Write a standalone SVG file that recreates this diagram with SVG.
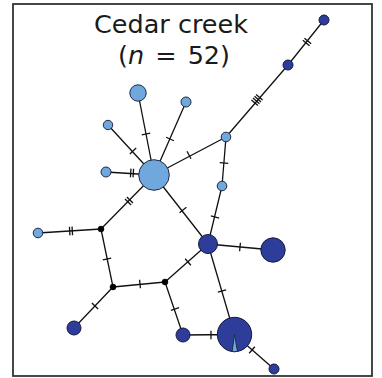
<svg xmlns="http://www.w3.org/2000/svg" xmlns:xlink="http://www.w3.org/1999/xlink" width="382" height="378" viewBox="0 0 382 378">
<defs>
<style>
.frame{fill:#fff;stroke:#333;stroke-width:1.8}
.title{font-family:"DejaVu Sans",Verdana,sans-serif;font-size:25.5px;fill:#1a1a1a;text-anchor:middle}
.edge{stroke:#111;stroke-width:1.3;fill:none}
.tick{stroke:#111;stroke-width:1.3;fill:none}
.light{fill:#70a8de;stroke:#1f2a44;stroke-width:1}
.dark{fill:#2f3d9a;stroke:#141a40;stroke-width:1}
.black{fill:#000;stroke:#000;stroke-width:0.5}
</style>
<path id="t1" class="tick" d="M0,-4.3V4.3"/>
<path id="t2" class="tick" d="M-1.3,-4.3V4.3M1.3,-4.3V4.3"/>
<path id="t4" class="tick" d="M-3.6,-4.3V4.3M-1.2,-4.3V4.3M1.2,-4.3V4.3M3.6,-4.3V4.3"/>
</defs>
<rect class="frame" x="13" y="4" width="359" height="372"/>
<g id="title">
<text class="title" x="171" y="33">Cedar creek</text>
<text class="title" x="174" y="64" word-spacing="3">(<tspan font-style="italic">n</tspan> = 52)</text>
</g>
<g id="connectors">
<path class="edge" d="M324,20L288,65M288,65L226,137M226,137L154,175M226,137L222,186M222,186L208,244M154,175L138,93M154,175L186,102M154,175L108,125M154,175L106,172M154,175L101,229M154,175L208,244M101,229L38,233M101,229L113,287M113,287L74,328M113,287L165,282M165,282L208,244M165,282L183,335M208,244L273,250M208,244L234.5,334.5M183,335L234.5,334.5M234.5,334.5L274,369"/>
<use xlink:href="#t2" transform="translate(307,42) rotate(128.7)"/>
<use xlink:href="#t4" transform="translate(257,100) rotate(130.7)"/>
<use xlink:href="#t1" transform="translate(189,155) rotate(152.2)"/>
<use xlink:href="#t1" transform="translate(224,163) rotate(94.7)"/>
<use xlink:href="#t1" transform="translate(215,217) rotate(103.6)"/>
<use xlink:href="#t1" transform="translate(146,134) rotate(-101)"/>
<use xlink:href="#t1" transform="translate(170,139) rotate(-66.3)"/>
<use xlink:href="#t1" transform="translate(133,151) rotate(-132.6)"/>
<use xlink:href="#t2" transform="translate(132,173) rotate(-176.4)"/>
<use xlink:href="#t2" transform="translate(129,201) rotate(134.5)"/>
<use xlink:href="#t1" transform="translate(183,210) rotate(51.9)"/>
<use xlink:href="#t2" transform="translate(71,231) rotate(176.4)"/>
<use xlink:href="#t1" transform="translate(107,259) rotate(78.3)"/>
<use xlink:href="#t1" transform="translate(95,306) rotate(133.6)"/>
<use xlink:href="#t1" transform="translate(140,284) rotate(-5.5)"/>
<use xlink:href="#t1" transform="translate(188,262) rotate(-41.5)"/>
<use xlink:href="#t1" transform="translate(175,309) rotate(71.2)"/>
<use xlink:href="#t1" transform="translate(240,247) rotate(5.3)"/>
<use xlink:href="#t1" transform="translate(222,291) rotate(73.9)"/>
<use xlink:href="#t1" transform="translate(211,335) rotate(0)"/>
<use xlink:href="#t1" transform="translate(252,350) rotate(41.2)"/>
</g>
<g id="nodes">
<g id="nA"><circle class="dark" cx="324" cy="20" r="5"/></g>
<g id="nB"><circle class="dark" cx="288" cy="65" r="5"/></g>
<g id="nC"><circle class="light" cx="226" cy="137" r="4.8"/></g>
<g id="nD"><circle class="light" cx="154" cy="175" r="15.3"/></g>
<g id="nE"><circle class="light" cx="222" cy="186" r="4.8"/></g>
<g id="nF"><circle class="dark" cx="208" cy="244" r="9.5"/></g>
<g id="nG"><circle class="light" cx="138" cy="93" r="8.2"/></g>
<g id="nH"><circle class="light" cx="186" cy="102" r="5"/></g>
<g id="nI"><circle class="light" cx="108" cy="125" r="4.7"/></g>
<g id="nJ"><circle class="light" cx="106" cy="172" r="5"/></g>
<g id="nK"><circle class="black" cx="101" cy="229" r="3"/></g>
<g id="nL"><circle class="light" cx="38" cy="233" r="4.8"/></g>
<g id="nM"><circle class="black" cx="113" cy="287" r="3"/></g>
<g id="nN"><circle class="dark" cx="74" cy="328" r="7"/></g>
<g id="nO"><circle class="black" cx="165" cy="282" r="3"/></g>
<g id="nP"><circle class="dark" cx="183" cy="335" r="7"/></g>
<g id="nQ"><circle class="dark" cx="273" cy="250" r="12.2"/></g>
<g id="nR"><circle class="dark" cx="234.5" cy="334.5" r="17.2"/><path class="light" d="M234.5,334.5L237.5,351.4A17.2,17.2 0 0 1 232.1,351.5Z"/></g>
<g id="nS"><circle class="dark" cx="274" cy="369" r="5"/></g>
</g>
</svg>
